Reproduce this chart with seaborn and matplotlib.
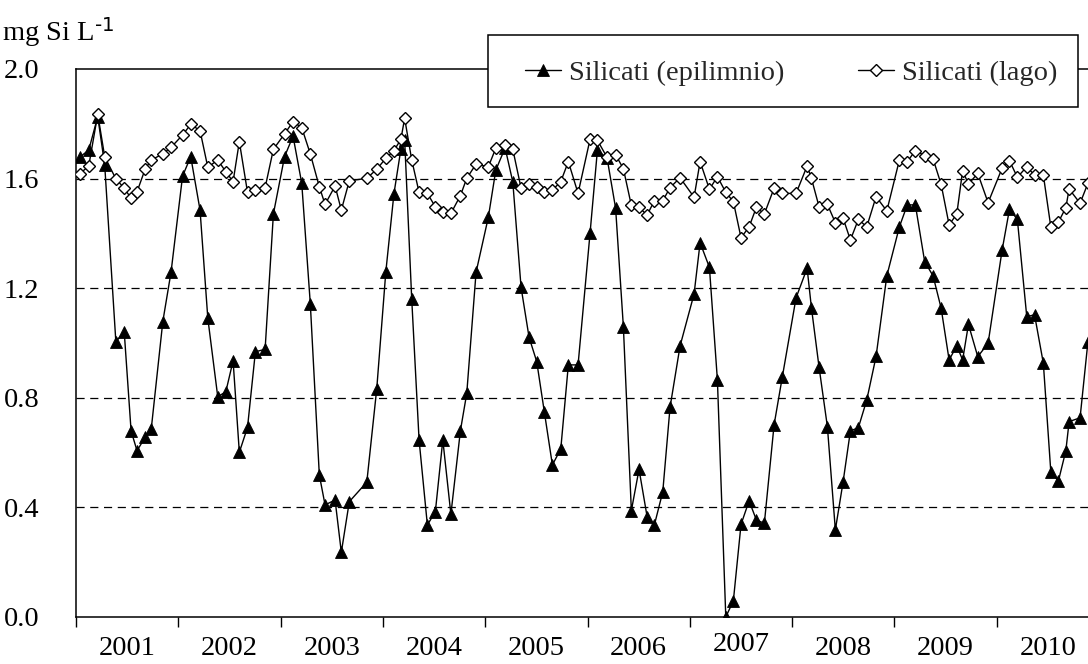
import matplotlib
matplotlib.use("Agg")
import matplotlib.pyplot as plt
from matplotlib.patches import Rectangle
from matplotlib.ticker import FixedLocator, NullFormatter, FixedFormatter
import seaborn as sns
import pandas as pd

# Sampling dates (decimal years)
dates = [
    2001.035, 2001.124, 2001.212, 2001.280, 2001.389, 2001.471, 2001.538, 2001.596,
    2001.676, 2001.735, 2001.848, 2001.929, 2002.041, 2002.121, 2002.212, 2002.288,
    2002.385, 2002.464, 2002.535, 2002.596, 2002.676, 2002.753, 2002.848, 2002.929,
    2003.038, 2003.121, 2003.206, 2003.290, 2003.378, 2003.434, 2003.532, 2003.593,
    2003.671, 2003.842, 2003.939, 2004.028, 2004.107, 2004.175, 2004.212, 2004.281,
    2004.353, 2004.434, 2004.512, 2004.585, 2004.664, 2004.757, 2004.819, 2004.910,
    2005.030, 2005.103, 2005.194, 2005.269, 2005.350, 2005.428, 2005.503, 2005.578,
    2005.656, 2005.738, 2005.812, 2005.907, 2006.024, 2006.096, 2006.191, 2006.274,
    2006.350, 2006.428, 2006.503, 2006.582, 2006.653, 2006.735, 2006.806, 2006.904,
    2007.041, 2007.100, 2007.191, 2007.269, 2007.351, 2007.425, 2007.500, 2007.579,
    2007.650, 2007.728, 2007.823, 2007.904, 2008.038, 2008.146, 2008.188, 2008.263,
    2008.344, 2008.422, 2008.498, 2008.569, 2008.647, 2008.729, 2008.820, 2008.925,
    2009.048, 2009.125, 2009.204, 2009.295, 2009.377, 2009.456, 2009.534, 2009.609,
    2009.666, 2009.723, 2009.814, 2009.915, 2010.052, 2010.124, 2010.201, 2010.293,
    2010.369, 2010.455, 2010.528, 2010.602, 2010.675, 2010.707, 2010.814, 2010.891,
]

# Silicates in the epilimnion (mg Si/L)
si_epilimnio = [
    1.678, 1.704, 1.826, 1.650, 1.005, 1.040, 0.679, 0.607,
    0.656, 0.686, 1.078, 1.260, 1.609, 1.680, 1.485, 1.090,
    0.804, 0.822, 0.935, 0.601, 0.692, 0.968, 0.977, 1.471,
    1.680, 1.755, 1.583, 1.142, 0.518, 0.409, 0.427, 0.236,
    0.421, 0.492, 0.832, 1.260, 1.544, 1.707, 1.741, 1.161,
    0.646, 0.336, 0.384, 0.646, 0.375, 0.680, 0.816, 1.258,
    1.459, 1.631, 1.712, 1.588, 1.203, 1.021, 0.932, 0.747,
    0.555, 0.613, 0.920, 0.920, 1.400, 1.703, 1.674, 1.492,
    1.059, 0.388, 0.539, 0.366, 0.336, 0.457, 0.765, 0.989,
    1.179, 1.366, 1.276, 0.865, 0.000, 0.059, 0.338, 0.424,
    0.354, 0.342, 0.701, 0.877, 1.165, 1.273, 1.129, 0.911,
    0.695, 0.318, 0.494, 0.679, 0.691, 0.792, 0.951, 1.245,
    1.424, 1.504, 1.504, 1.297, 1.245, 1.127, 0.938, 0.990,
    0.938, 1.068, 0.950, 0.999, 1.339, 1.488, 1.451, 1.096,
    1.103, 0.926, 0.530, 0.496, 0.607, 0.713, 0.727, 1.005,
]

# Silicates, whole-lake mean (mg Si/L)
si_lago = [
    1.617, 1.646, 1.835, 1.680, 1.599, 1.565, 1.528, 1.552,
    1.635, 1.668, 1.690, 1.714, 1.759, 1.798, 1.775, 1.641,
    1.668, 1.625, 1.589, 1.735, 1.550, 1.558, 1.567, 1.707,
    1.763, 1.808, 1.786, 1.690, 1.570, 1.506, 1.573, 1.485,
    1.592, 1.601, 1.634, 1.674, 1.702, 1.743, 1.820, 1.668,
    1.550, 1.546, 1.497, 1.479, 1.473, 1.538, 1.601, 1.653,
    1.643, 1.711, 1.724, 1.707, 1.565, 1.579, 1.570, 1.552,
    1.558, 1.589, 1.662, 1.546, 1.743, 1.740, 1.677, 1.687,
    1.636, 1.502, 1.495, 1.467, 1.519, 1.519, 1.567, 1.603,
    1.532, 1.662, 1.561, 1.607, 1.550, 1.516, 1.384, 1.424,
    1.495, 1.471, 1.565, 1.546, 1.546, 1.646, 1.601, 1.497,
    1.506, 1.439, 1.455, 1.376, 1.451, 1.424, 1.534, 1.482,
    1.668, 1.662, 1.702, 1.684, 1.672, 1.579, 1.431, 1.471,
    1.629, 1.580, 1.619, 1.512, 1.638, 1.665, 1.605, 1.643,
    1.613, 1.613, 1.424, 1.441, 1.494, 1.562, 1.510, 1.583,
]

years = [2001, 2002, 2003, 2004, 2005, 2006, 2007, 2008, 2009, 2010]
year_labels = [str(y) for y in years]
y_ticks = [0.0, 0.4, 0.8, 1.2, 1.6, 2.0]
label_epi = "Silicati (epilimnio)"
label_lago = "Silicati (lago)"

sns.set_theme(style="white")
plt.rcParams["font.family"] = ["Liberation Serif", "DejaVu Serif"]
plt.rcParams["mathtext.default"] = "regular"
FS = 20.5

df = pd.DataFrame({"data": dates, "epi": si_epilimnio, "lago": si_lago})

fig = plt.figure(figsize=(10.88, 6.64), dpi=100)
ax = fig.add_axes([0.0699, 0.0708, 0.9403, 0.8253])

# dashed horizontal gridlines
for yv in y_ticks[1:-1]:
    ax.axhline(yv, color="black", lw=0.9, ls=(0, (6.5, 4.5)), zorder=0.5)

sns.lineplot(data=df, x="data", y="epi", ax=ax, color="black", lw=1.0,
             marker="^", markersize=8.6, markerfacecolor="black",
             markeredgecolor="black", markeredgewidth=0.6,
             label=label_epi, estimator=None, zorder=2)
sns.lineplot(data=df, x="data", y="lago", ax=ax, color="black", lw=1.0,
             marker="D", markersize=6.2, markerfacecolor="white",
             markeredgecolor="black", markeredgewidth=1.0,
             label=label_lago, estimator=None, zorder=3)

ax.set_xlim(2001, 2011)
ax.set_ylim(0, 2.0)
ax.set_xlabel("")
ax.set_ylabel("")

# year boundaries as tick marks, labels centred on each year
ax.xaxis.set_major_locator(FixedLocator(years + [2011]))
ax.xaxis.set_major_formatter(NullFormatter())
ax.xaxis.set_minor_locator(FixedLocator([y + 0.5 for y in years]))
ax.xaxis.set_minor_formatter(FixedFormatter(year_labels))
ax.tick_params(axis="x", which="major", direction="out", length=7.2,
               width=1.0, color="black", bottom=True)
ax.tick_params(axis="x", which="minor", length=0, pad=13.5,
               labelsize=FS, labelcolor="black", bottom=True)

ax.set_yticks(y_ticks)
ax.set_yticklabels([f"{v:.1f}" for v in y_ticks])
ax.tick_params(axis="y", length=0, pad=26.5, labelsize=FS, labelcolor="black")

for side in ("left", "bottom", "top"):
    ax.spines[side].set_visible(True)
    ax.spines[side].set_color("black")
    ax.spines[side].set_linewidth(1.1)
ax.spines["right"].set_visible(False)

handles, labels = ax.get_legend_handles_labels()
ax.get_legend().remove()

fig.canvas.draw()
# the 2007 label sits slightly higher
for tick, lab in zip(ax.xaxis.get_minor_ticks(), year_labels):
    if lab == "2007":
        tick.set_pad(10.5)

# legend frame
fig.add_artist(Rectangle((0.4485, 0.8389), 0.5423, 0.1084,
                         transform=fig.transFigure, facecolor="white",
                         edgecolor="black", lw=1.1, zorder=4))
fig.legend(handles, labels, loc="center left", bbox_to_anchor=(0.4825, 0.8901),
           ncol=2, frameon=False, borderpad=0, borderaxespad=0,
           handlelength=1.26, handletextpad=0.28, columnspacing=2.6,
           fontsize=FS)

fig.text(0.002, 1 - 41 / 664, r"mg Si L$^{\text{-1}}$", fontsize=FS,
         color="black", ha="left", va="baseline")

fig.savefig("out.png", dpi=100)
